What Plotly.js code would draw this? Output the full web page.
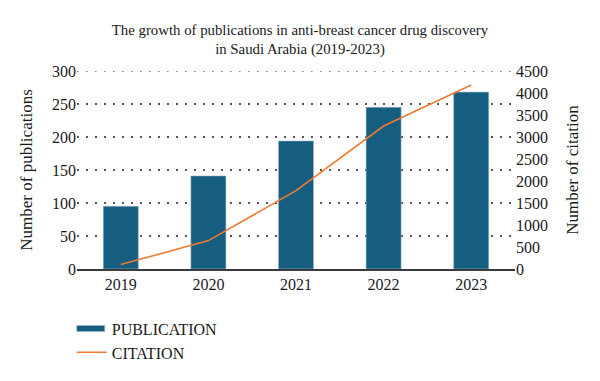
<!DOCTYPE html>
<html>
<head>
<meta charset="utf-8">
<script src="https://cdn.plot.ly/plotly-3.0.1.min.js"></script>
<style>
  html, body { margin: 0; padding: 0; background: #fff; }
  #chart { width: 600px; height: 381px; }
</style>
</head>
<body>
<div id="chart"></div>
<script>
// Publications and citations per year
const years = ['2019', '2020', '2021', '2022', '2023'];
const publications = [95, 141, 194, 245, 268];
const citations = [100, 645, 1780, 3250, 4180];

const leftTicks = [0, 50, 100, 150, 200, 250, 300];
const rightTicks = [0, 500, 1000, 1500, 2000, 2500, 3000, 3500, 4000, 4500];

const serif = 'Liberation Serif, DejaVu Serif, serif';
const ink = '#1a1a1a';
const gridDash = '1.5px,7.5px';

const traces = [
  {
    type: 'bar',
    name: 'PUBLICATION',
    x: years,
    y: publications,
    width: 0.4,
    marker: { color: '#165e80', line: { color: '#9fb9c8', width: 0.6 } },
    yaxis: 'y'
  },
  {
    type: 'scatter',
    mode: 'lines',
    name: 'CITATION',
    x: years,
    y: citations,
    line: { color: '#f07a32', width: 1.6 },
    yaxis: 'y2'
  }
];

const layout = {
  width: 600,
  height: 381,
  margin: { l: 77, r: 85, t: 71, b: 101 },
  paper_bgcolor: '#ffffff',
  plot_bgcolor: '#ffffff',
  font: { family: serif, size: 16, color: ink },
  title: {
    text: 'The growth of publications in anti-breast cancer drug discovery<br>in Saudi Arabia (2019-2023)',
    font: { family: serif, size: 14.8, color: ink },
    x: 0.5,
    xanchor: 'center',
    y: 0.908,
    yanchor: 'top'
  },
  xaxis: {
    type: 'category',
    showgrid: false,
    showline: true,
    linecolor: '#3a3a3a',
    linewidth: 1.5,
    ticks: '',
    tickfont: { family: serif, size: 16, color: ink },
    zeroline: false
  },
  yaxis: {
    range: [0, 300],
    tickvals: leftTicks,
    showline: false,
    ticks: '',
    showgrid: true,
    gridcolor: '#555555',
    gridwidth: 1.5,
    griddash: gridDash,
    zeroline: false,
    tickfont: { family: serif, size: 16, color: ink },
    title: { text: 'Number of publications', font: { family: serif, size: 17, color: ink }, standoff: 15 }
  },
  yaxis2: {
    overlaying: 'y',
    side: 'right',
    range: [0, 4500],
    tickvals: rightTicks,
    showgrid: false,
    showline: false,
    ticks: '',
    zeroline: false,
    tickfont: { family: serif, size: 16, color: ink },
    title: { text: 'Number of citation', font: { family: serif, size: 17, color: ink }, standoff: 19 }
  },
  // dotted guide along the top of the plot area (y = 300)
  shapes: [{
    type: 'line',
    xref: 'paper', x0: 0, x1: 1,
    yref: 'y', y0: leftTicks[leftTicks.length - 1], y1: leftTicks[leftTicks.length - 1],
    line: { color: '#555555', width: 1.5, dash: gridDash },
    layer: 'below'
  }],
  showlegend: true,
  legend: {
    orientation: 'v',
    x: -0.012,
    xanchor: 'left',
    y: -0.215,
    yanchor: 'top',
    font: { family: serif, size: 16, color: ink },
    tracegroupgap: 0,
    itemwidth: 30
  }
};

// Wide, flat legend swatch for the bar series
function flattenBarSwatch() {
  const items = document.querySelectorAll('#chart .legend .traces');
  if (!items.length) return;
  items[0].querySelectorAll('.legendpoints path').forEach(p => {
    p.setAttribute('d', 'M13,3H-15V-3H13Z');
  });
}

Plotly.newPlot('chart', traces, layout, { displayModeBar: false, staticPlot: true })
  .then(flattenBarSwatch);
</script>
</body>
</html>
